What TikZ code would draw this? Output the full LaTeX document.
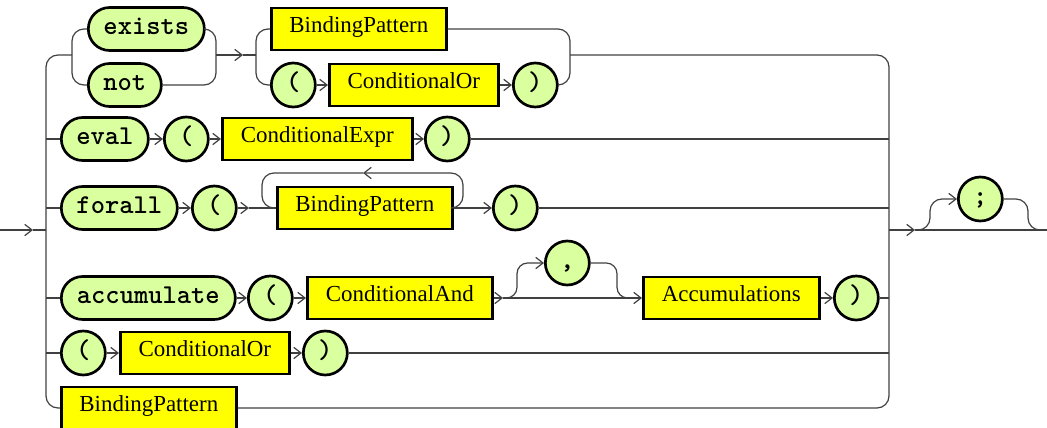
\documentclass[tikz,border=0pt]{standalone}
\usepackage{fontspec}
\setmainfont{Liberation Serif}
\usetikzlibrary{arrows.meta}
\definecolor{pillgreen}{RGB}{218,255,158}
\definecolor{ntyellow}{RGB}{255,255,0}
\begin{document}
\begin{tikzpicture}[x=0.75pt,y=-0.75pt,
  conn/.style={draw=black!75, line width=0.9pt},
  arr/.style={conn, -{Straight Barb[length=5.5pt,width=8.5pt]}},
  rr/.style={conn, rounded corners=9pt},
  rrs/.style={conn, rounded corners=8pt},
  termw/.style={draw=black, line width=2pt, fill=pillgreen, rectangle,
    rounded corners=16pt, minimum height=32.25pt, minimum width=#1,
    inner sep=0pt, anchor=west, text height=10pt, text depth=1.8pt,
    font=\ttfamily\bfseries\fontsize{20.4pt}{22pt}\selectfont},
  tc/.style={draw=black, line width=2pt, fill=pillgreen, circle,
    minimum size=33pt, inner sep=0pt, anchor=west, text height=10pt, text depth=1.8pt,
    font=\ttfamily\bfseries\fontsize{20.4pt}{22pt}\selectfont},
  ntw/.style={draw=black, line width=2pt, fill=ntyellow, rectangle,
    minimum height=31.5pt, minimum width=#1, inner sep=0pt, anchor=west,
    text height=11pt, text depth=5.8pt,
    font=\fontsize{17.2pt}{19pt}\selectfont}]
\useasboundingbox (0,0) rectangle (1047,428);

% ---------- nodes ----------
\node[termw=87pt] (exists) at (87,29) {exists};
\node[termw=54.75pt] (not) at (87,85) {not};
\node[ntw=131.25pt] (bp1) at (270,29) {BindingPattern};
\node[tc] (lp1) at (270,85) {(};
\node[ntw=126.75pt] (co1) at (328,85) {ConditionalOr};
\node[tc] (rp1) at (512,85) {)};

\node[termw=65.25pt] (eval) at (60,139) {eval};
\node[tc] (lp2) at (163,139) {(};
\node[ntw=142.5pt] (ce) at (221,139) {ConditionalExpr};
\node[tc] (rp2) at (424,139) {)};

\node[termw=87pt] (forall) at (60,208) {forall};
\node[tc] (lp3) at (191,208) {(};
\node[ntw=131.25pt] (bp3) at (276,208) {BindingPattern};
\node[tc] (rp3) at (492,208) {)};

\node[termw=130.5pt] (acc) at (60,298) {accumulate};
\node[tc] (lp4) at (247,298) {(};
\node[ntw=138.75pt] (ca) at (306,298) {ConditionalAnd};
\node[tc] (comma) at (544,263) {,};
\node[ntw=132pt] (accs) at (642,298) {Accumulations};
\node[tc] (rp4) at (833,298) {)};

\node[tc] (lp5) at (60,353) {(};
\node[ntw=126.75pt] (co5) at (119,353) {ConditionalOr};
\node[tc] (rp5) at (302,353) {)};

\node[ntw=131.25pt] (bp6) at (60,408) {BindingPattern};

\node[tc] (semi) at (957,199) {;};

% ---------- junction coordinates ----------
\coordinate (in) at (0,230);
\coordinate (ina) at (33,230);
\coordinate (inj) at (46,230);
\coordinate (outj) at (889,230);
\coordinate (outa) at (915,230);
\coordinate (semis) at (918,230);
\coordinate (semie) at (1040,230);
\coordinate (out) at (1047,230);
\coordinate (c1m) at (72,55);
\coordinate (c1r) at (216,55);
\coordinate (c1a) at (243,55);
\coordinate (c2l) at (256,55);
\coordinate (c2r) at (570,55);
\coordinate (fa) at (249,208);
\coordinate (loopa) at (363,173);
\coordinate (cand) at (503,298);
\coordinate (cmerge) at (629,298);

% ---------- outer choice ----------
\draw[rr] (c1m) -- (46,55) -- (46,408) -- (bp6.west);
\draw[rr] (c2r) -- (889,55) -- (889,408) -- (bp6.east);
\draw[arr] (in) -- (ina);
\draw[conn] (ina) -- (inj);
\draw[arr] (outj) -- (outa);
\draw[conn] (outa) -- (out);

% ---------- row 1 ----------
\draw[rr] (exists.west) -- (72,29) -- (72,85) -- (not.west);
\draw[rr] (exists.east) -- (216,29) -- (216,85) -- (not.east);
\draw[arr] (c1r) -- (c1a);
\draw[conn] (c1a) -- (c2l);
\draw[rr] (bp1.west) -- (256,29) -- (256,85) -- (lp1.west);
\draw[rr] (bp1.east) -- (570,29) -- (570,85) -- (rp1.east);
\draw[arr] (lp1.east) -- (co1.west);
\draw[arr] (co1.east) -- (rp1.west);

% ---------- row 2 ----------
\draw[conn] (eval.west -| inj) -- (eval.west);
\draw[arr] (eval.east) -- (lp2.west);
\draw[arr] (lp2.east) -- (ce.west);
\draw[arr] (ce.east) -- (rp2.west);
\draw[conn] (rp2.east) -- (rp2.east -| outj);

% ---------- row 3 ----------
\draw[conn] (forall.west -| inj) -- (forall.west);
\draw[arr] (forall.east) -- (lp3.west);
\draw[arr] (lp3.east) -- (fa);
\draw[conn] (fa) -- (bp3.west);
\draw[arr] (bp3.east) -- (rp3.west);
\draw[arr, rounded corners=9pt] (bp3.east) -- (463,208) -- (463,173) -- (loopa);
\draw[rr] (loopa) -- (262,173) -- (262,208) -- (bp3.west);
\draw[conn] (rp3.east) -- (rp3.east -| outj);

% ---------- row 4 ----------
\draw[conn] (acc.west -| inj) -- (acc.west);
\draw[arr] (acc.east) -- (lp4.west);
\draw[arr] (lp4.east) -- (ca.west);
\draw[arr] (ca.east) -- (cand);
\draw[arr] (cand) -- (accs.west);
\draw[arr, rounded corners=8pt] (cand) -- (517,298) -- (517,263) -- (comma.west);
\draw[rrs] (comma.east) -- (617,263) -- (617,298) -- (cmerge);
\draw[arr] (accs.east) -- (rp4.west);
\draw[conn] (rp4.east) -- (rp4.east -| outj);

% ---------- row 5 ----------
\draw[conn] (lp5.west -| inj) -- (lp5.west);
\draw[arr] (lp5.east) -- (co5.west);
\draw[arr] (co5.east) -- (rp5.west);
\draw[conn] (rp5.east) -- (rp5.east -| outj);

% ---------- optional ; ----------
\draw[arr, rounded corners=9pt] (semis) -- (930,230) -- (930,199) -- (semi.west);
\draw[rr] (semi.east) -- (1028,199) -- (1028,230) -- (semie);
\end{tikzpicture}
\end{document}
